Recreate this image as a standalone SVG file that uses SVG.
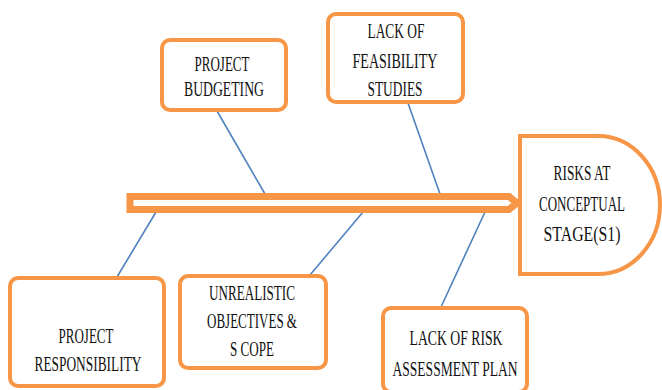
<svg xmlns="http://www.w3.org/2000/svg" width="662" height="390" viewBox="0 0 662 390">
<style>
.box{fill:#fff;stroke:#F79646;stroke-width:4}
.ln{stroke:#4F81BD;stroke-width:1.6;fill:none}
.t{font-family:"Liberation Serif","DejaVu Serif",serif;font-size:21px;fill:#111;text-anchor:middle}
</style>
<rect width="662" height="390" fill="#fff"/>
<g id="connectors">
<line class="ln" x1="217" y1="111" x2="265" y2="194"/>
<line class="ln" x1="408" y1="103" x2="440" y2="194"/>
<line class="ln" x1="156" y1="212" x2="117" y2="277"/>
<line class="ln" x1="363" y1="212" x2="310" y2="275"/>
<line class="ln" x1="485" y1="212" x2="441" y2="307"/>
</g>
<g id="spine">
<path d="M130,196.5 H509 L517,203 L509,209.5 H130 Z" fill="#fff" stroke="#F79646" stroke-width="7" stroke-linejoin="miter"/>
</g>
<g id="head">
<path class="box" d="M520,136 H598 A62,69 0 0 1 598,274 H520 Z"/>
<text class="t" x="582" y="180" textLength="57" lengthAdjust="spacingAndGlyphs">RISKS AT</text>
<text class="t" x="582" y="211" textLength="86" lengthAdjust="spacingAndGlyphs">CONCEPTUAL</text>
<text class="t" x="582" y="241" textLength="77" lengthAdjust="spacingAndGlyphs">STAGE(S1)</text>
</g>
<g id="budgeting">
<rect class="box" x="162" y="40" width="124" height="70" rx="8"/>
<text class="t" x="222" y="71" textLength="55" lengthAdjust="spacingAndGlyphs">PROJECT</text>
<text class="t" x="224" y="96" textLength="80" lengthAdjust="spacingAndGlyphs">BUDGETING</text>
</g>
<g id="feasibility">
<rect class="box" x="328" y="14" width="135" height="88" rx="8"/>
<text class="t" x="396" y="38" textLength="57" lengthAdjust="spacingAndGlyphs">LACK OF</text>
<text class="t" x="395" y="68" textLength="85" lengthAdjust="spacingAndGlyphs">FEASIBILITY</text>
<text class="t" x="395" y="96" textLength="55" lengthAdjust="spacingAndGlyphs">STUDIES</text>
</g>
<g id="responsibility">
<rect class="box" x="10" y="278" width="154" height="108" rx="8"/>
<text class="t" x="86" y="343" textLength="55" lengthAdjust="spacingAndGlyphs">PROJECT</text>
<text class="t" x="88" y="371" textLength="107" lengthAdjust="spacingAndGlyphs">RESPONSIBILITY</text>
</g>
<g id="objectives">
<rect class="box" x="180" y="276" width="146" height="92" rx="8"/>
<text class="t" x="252" y="300" textLength="86" lengthAdjust="spacingAndGlyphs">UNREALISTIC</text>
<text class="t" x="252" y="328" textLength="90" lengthAdjust="spacingAndGlyphs">OBJECTIVES &amp;</text>
<text class="t" x="252" y="356" textLength="44" lengthAdjust="spacingAndGlyphs">S COPE</text>
</g>
<g id="riskplan">
<rect class="box" x="383" y="308" width="144" height="84" rx="8"/>
<text class="t" x="456" y="345" textLength="93" lengthAdjust="spacingAndGlyphs">LACK OF RISK</text>
<text class="t" x="455" y="376" textLength="125" lengthAdjust="spacingAndGlyphs">ASSESSMENT PLAN</text>
</g>
</svg>
